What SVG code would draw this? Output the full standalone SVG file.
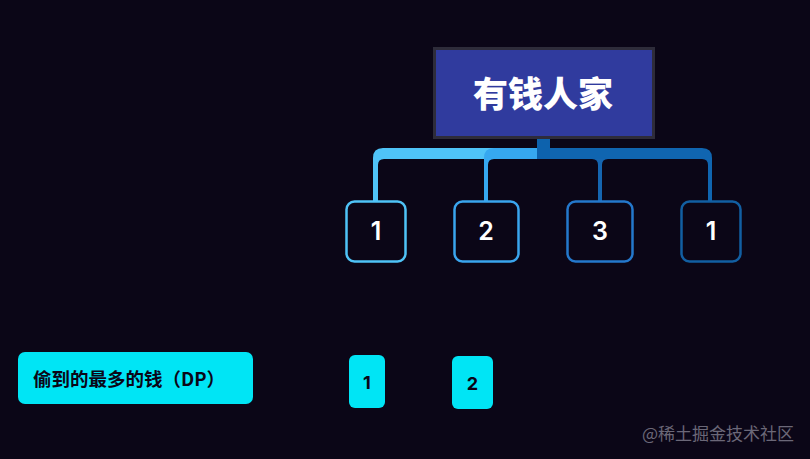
<svg xmlns="http://www.w3.org/2000/svg" width="810" height="459" viewBox="0 0 810 459">
<style>
.cjk{font-family:"Noto Sans CJK SC","Noto Sans",sans-serif;font-weight:700}
.num{font-family:Inter,"Noto Sans",sans-serif;font-weight:600;font-size:25px;fill:#ffffff;text-anchor:middle}
.child{fill:#0b0617;stroke-width:2.5}
.dp{fill:#00e5f5}
.dpnum{font-family:Inter,"Noto Sans",sans-serif;font-weight:700;font-size:18px;fill:#0b0617;text-anchor:middle}
</style>
<rect width="810" height="459" fill="#0b0617"/>
<g id="connectors">
<rect x="537" y="139" width="13" height="20" fill="#0d62ad"/>
<path d="M537,148 H383 Q373,148 373,158 V201 H378 V165 Q378,159 384,159 H537 Z" fill="#4fc3f7"/>
<path d="M537,148 H494 Q484,148 484,158 V201 H488 V165 Q488,159 494,159 H537 Z" fill="#36a8f0"/>
<path d="M550,148 H702 Q712,148 712,158 V201 H708 V165 Q708,159 702,159 H550 Z" fill="#1065b0"/>
<path d="M592,159 Q598,159 598,165 V201 H602 V165 Q602,159 608,159 Z" fill="#1565b0"/>
</g>
<g id="root">
<rect x="434.5" y="48.5" width="219" height="89" fill="#303b9e" stroke="#2e2c3a" stroke-width="3"/>
<text x="543" y="107" class="cjk" font-size="35" font-weight="900" fill="#ffffff" text-anchor="middle" style="font-weight:900">有钱人家</text>
</g>
<g id="n1">
<rect x="346.5" y="201.5" width="59" height="60" rx="8" class="child" stroke="#4fc3f7"/>
<text x="376" y="240" class="num">1</text>
</g>
<g id="n2">
<rect x="454.5" y="201.5" width="64" height="60" rx="8" class="child" stroke="#3aa5ee"/>
<text x="486" y="240" class="num">2</text>
</g>
<g id="n3">
<rect x="567.5" y="201.5" width="65" height="60" rx="8" class="child" stroke="#2478cc"/>
<text x="600" y="240" class="num">3</text>
</g>
<g id="n4">
<rect x="681.5" y="201.5" width="59" height="60" rx="8" class="child" stroke="#125fa2"/>
<text x="711" y="240" class="num">1</text>
</g>
<g id="dp-label">
<rect x="18" y="352" width="235" height="52" rx="7" class="dp"/>
<text x="33" y="386" class="cjk" font-size="18.5" fill="#0b0617">偷到的最多的钱（DP）</text>
</g>
<g id="dp1">
<rect x="349" y="355" width="36" height="53" rx="6" class="dp"/>
<text x="367" y="389" class="dpnum">1</text>
</g>
<g id="dp2">
<rect x="452" y="356" width="41" height="53" rx="6" class="dp"/>
<text x="472.5" y="390" class="dpnum">2</text>
</g>
<text x="642" y="440" font-family="'Noto Sans CJK SC','Noto Sans',sans-serif" font-size="17" fill="#6b6878">@稀土掘金技术社区</text>
</svg>
